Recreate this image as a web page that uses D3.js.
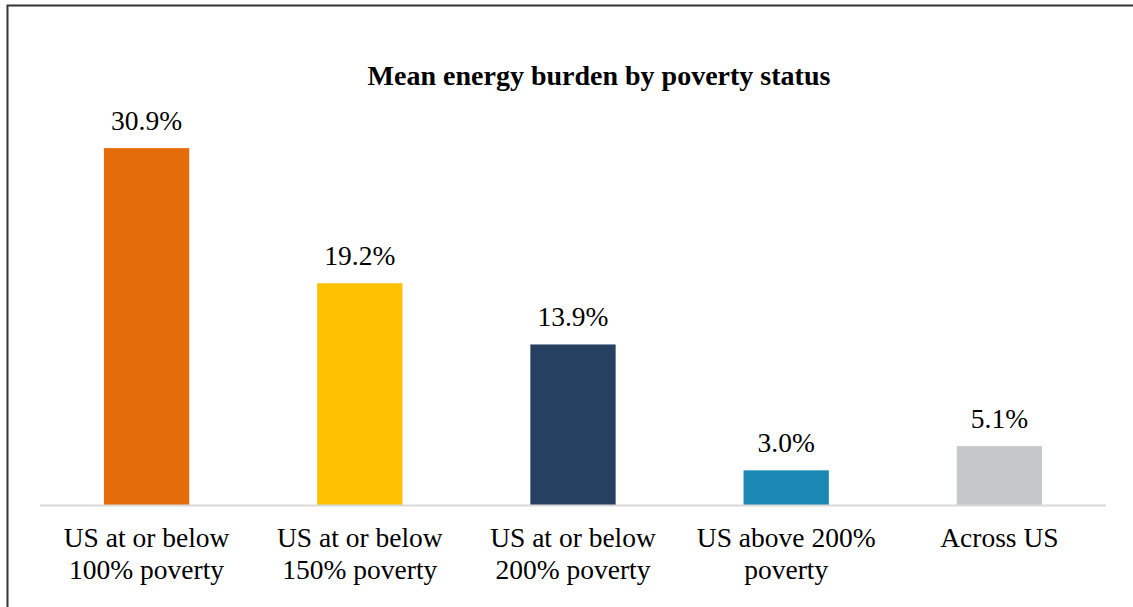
<!DOCTYPE html>
<html>
<head>
<meta charset="utf-8">
<script src="https://cdn.jsdelivr.net/npm/d3@7"></script>
<style>
  html, body { margin: 0; padding: 0; background: #fff; }
  svg { display: block; }
</style>
</head>
<body>
<div id="chart"></div>
<script>
// Mean energy burden (% of income) by poverty status
const categories = [
  ["US at or below", "100% poverty"],
  ["US at or below", "150% poverty"],
  ["US at or below", "200% poverty"],
  ["US above 200%", "poverty"],
  ["Across US"]
];
const values = [30.9, 19.2, 13.9, 3.0, 5.1];
const barColors = ["#E46C0A", "#FFC000", "#264061", "#1A87B4", "#C5C8C8"];
const title = "Mean energy burden by poverty status";

const W = 1133, H = 607;
const margin = { left: 40, right: 27, top: 101, bottom: 102 };
const font = "'Liberation Serif', 'Times New Roman', serif";

const svg = d3.select("#chart").append("svg")
  .attr("width", W).attr("height", H);

// frame (left and top edges)
svg.append("path")
  .attr("d", `M7.5,${H} V5.5 H${W}`)
  .attr("fill", "none").attr("stroke", "#333").attr("stroke-width", 2);

const x = d3.scaleBand()
  .domain(d3.range(values.length))
  .range([margin.left, W - margin.right])
  .paddingInner(0.6).paddingOuter(0.3);

const y = d3.scaleLinear()
  .domain([0, 35])
  .range([H - margin.bottom, H - margin.bottom - 35 * 11.55]);

svg.append("text")
  .attr("x", 599).attr("y", 85)
  .attr("text-anchor", "middle")
  .attr("font-family", font).attr("font-weight", "bold")
  .attr("font-size", 28).attr("fill", "#000")
  .text(title);

svg.selectAll("rect.bar").data(values).join("rect")
  .attr("class", "bar")
  .attr("x", (d, i) => x(i))
  .attr("width", x.bandwidth())
  .attr("y", d => y(d))
  .attr("height", d => y(0) - y(d))
  .attr("fill", (d, i) => barColors[i]);

// baseline
svg.append("line")
  .attr("x1", margin.left).attr("x2", W - margin.right)
  .attr("y1", y(0) + 0.5).attr("y2", y(0) + 0.5)
  .attr("stroke", "#D9D9D9").attr("stroke-width", 2);

// value labels
svg.selectAll("text.val").data(values).join("text")
  .attr("class", "val")
  .attr("x", (d, i) => x(i) + x.bandwidth() / 2)
  .attr("y", d => y(d) - 18)
  .attr("text-anchor", "middle")
  .attr("font-family", font).attr("font-size", 27.5).attr("fill", "#000")
  .text(d => d.toFixed(1) + "%");

// category labels
const cat = svg.selectAll("text.cat").data(categories).join("text")
  .attr("class", "cat")
  .attr("text-anchor", "middle")
  .attr("font-family", font).attr("font-size", 27.5).attr("fill", "#000");
cat.selectAll("tspan").data((d, i) => d.map(s => ({ s, i }))).join("tspan")
  .attr("x", d => x(d.i) + x.bandwidth() / 2)
  .attr("y", (d, j) => y(0) + 42 + j * 32)
  .text(d => d.s);
</script>
</body>
</html>
